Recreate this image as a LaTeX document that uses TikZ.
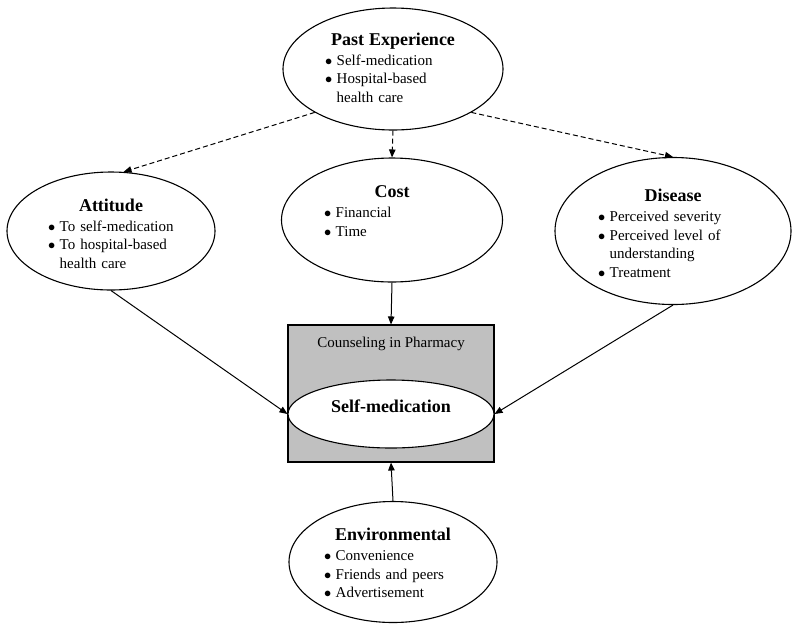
\documentclass[tikz,border=0pt]{standalone}
\usepackage{fontspec}
\setmainfont{Liberation Serif}
\usetikzlibrary{shapes.geometric,positioning,arrows.meta}

\newcommand{\topichead}[1]{{\centering\fontsize{18}{20}\selectfont\bfseries #1\par}\vspace{1.5pt}}
\newcommand{\topicitems}[1]{\begin{tabular}[t]{@{}c@{\hspace{4.5pt}}l@{}}#1\end{tabular}}
\newcommand{\dotitem}{$\bullet$}

\tikzset{
  bubble/.style={ellipse, draw, line width=1.1pt, fill=white, inner sep=0pt},
  topic/.style={anchor=north, align=left, inner sep=0pt, font=\fontsize{15}{18.5}\selectfont},
  link/.style={line width=1pt, -{Triangle[length=8pt,width=6.5pt]}},
  maybe/.style={link, dash pattern=on 5pt off 3pt}
}

\begin{document}
\begin{tikzpicture}[x=1pt,y=-1pt]
\useasboundingbox (0,0) rectangle (800,633);

\node[bubble, minimum width=220pt, minimum height=122pt] (past) at (393,69) {};
\node[topic, text width=136pt, below=25pt of past.north] (pasttxt) {\topichead{Past Experience}
\topicitems{\dotitem & Self-medication\\ \dotitem & Hospital-based\\ & health care}};

\node[bubble, minimum width=208pt, minimum height=118pt] (att) at (111,231) {};
\node[topic, text width=126pt, below=27pt of att.north] (atttxt) {\topichead{Attitude}
\topicitems{\dotitem & To self-medication\\ \dotitem & To hospital-based\\ & health care}};

\node[bubble, minimum width=221pt, minimum height=124pt] (cost) at (392,220) {};
\node[topic, text width=136pt, below=28pt of cost.north] (costtxt) {\topichead{Cost}
\topicitems{\dotitem & Financial\\ \dotitem & Time}};

\node[bubble, minimum width=236pt, minimum height=147pt] (dis) at (673,231) {};
\node[topic, text width=150pt, below=32pt of dis.north] (distxt) {\topichead{Disease}
\topicitems{\dotitem & Perceived severity\\ \dotitem & Perceived level of\\ & understanding\\ \dotitem & Treatment}};

% counseling box with the central ellipse
\node[draw, line width=1.1pt, fill={rgb,255:red,192;green,192;blue,192}, minimum width=206pt, minimum height=137pt, inner sep=0pt] (counsel) at (391,393.5) {};
\node[anchor=north, inner sep=0pt, font=\fontsize{15}{18}\selectfont, below=12pt of counsel.north] (counseltxt) {Counseling in Pharmacy};
\node[bubble, minimum width=206pt, minimum height=68pt] (self) at (391,414) {};
\node[inner sep=0pt, font=\fontsize{18}{20}\selectfont\bfseries] (selftxt) at ([yshift=8pt]self.center) {Self-medication};

\node[bubble, minimum width=208pt, minimum height=121pt] (env) at (393,562) {};
\node[topic, text width=138pt, below=27pt of env.north] (envtxt) {\topichead{Environmental}
\topicitems{\dotitem & Convenience\\ \dotitem & Friends and peers\\ \dotitem & Advertisement}};

% dashed links from past experience
\draw[maybe] (past.209) -- (att.78);
\draw[maybe] (past.south) -- (cost.north);
\draw[maybe] (past.331) -- (dis.north);

% solid links into self-medication
\draw[link] (att.south) -- (self.west);
\draw[link] (cost.south) -- (counsel.north);
\draw[link] (dis.south) -- (self.east);
\draw[link] (env.north) -- (counsel.south);
\end{tikzpicture}
\end{document}
